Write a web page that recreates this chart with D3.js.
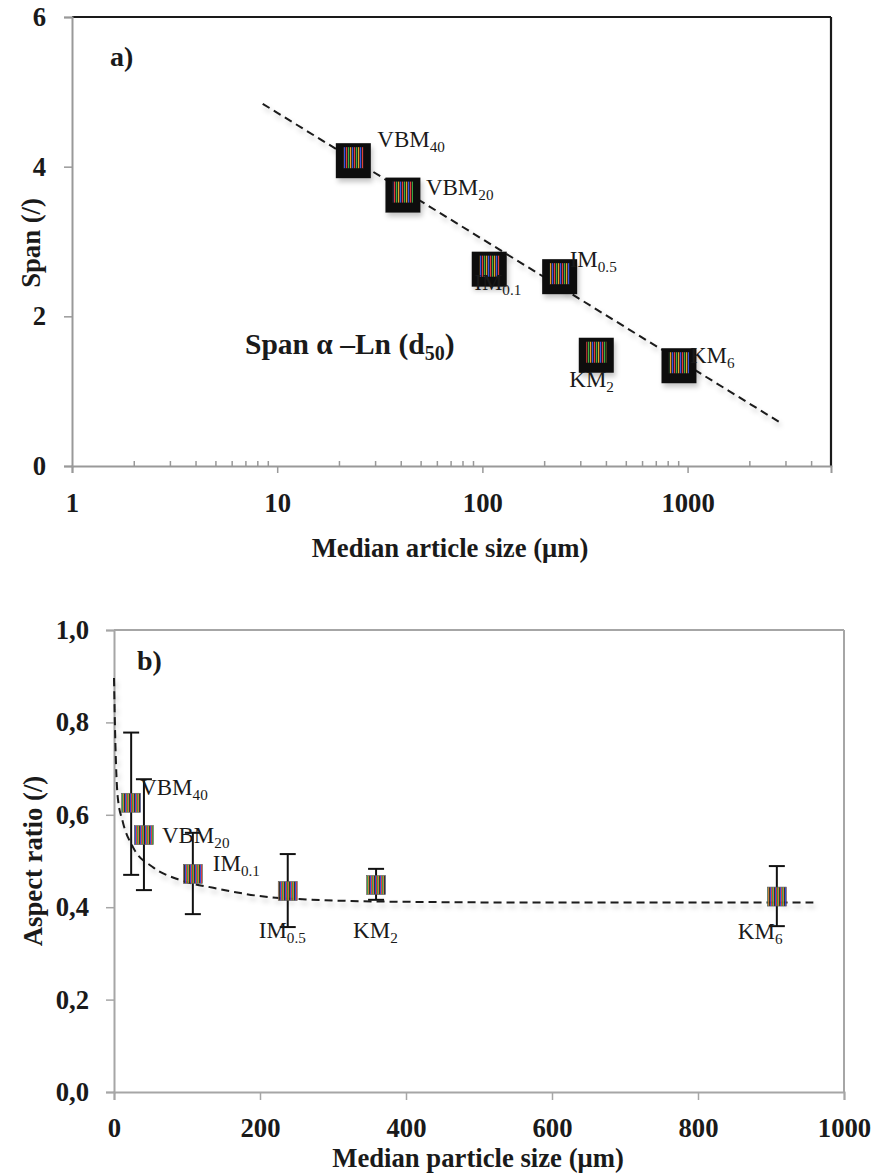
<!DOCTYPE html>
<html><head><meta charset="utf-8">
<script src="https://cdn.jsdelivr.net/npm/d3@7"></script>
<style>
body{margin:0;background:#fff}
svg{display:block}
text{font-family:"Liberation Serif","Times New Roman",serif;fill:#1a1a1a}
</style>
</head><body>
<svg id="chart" width="876" height="1175"></svg>
<script>
// ---------- data ----------
const samples = ["VBM40","VBM20","IM0.1","IM0.5","KM2","KM6"];
const labelMain = ["VBM","VBM","IM","IM","KM","KM"];
const labelSub = ["40","20","0.1","0.5","2","6"];
const medianSize = [23.5, 41, 108, 238, 359, 908];
const spanValues = [4.08, 3.62, 2.63, 2.53, 1.48, 1.34];
const aspectRatio = [0.626, 0.556, 0.472, 0.435, 0.448, 0.423];
const aspectUpper = [0.778, 0.677, 0.561, 0.515, 0.483, 0.489];
const aspectLower = [0.470, 0.437, 0.385, 0.357, 0.416, 0.359];
const spanTrendX = [8.5, 2850];
const spanTrendY = [4.84, 0.575];
const arTrendX = [0, 1.5, 5, 12, 26, 53, 90, 136, 226, 380, 600, 958];
const arTrendY = [0.896, 0.78, 0.64, 0.585, 0.53, 0.487, 0.459, 0.442, 0.42, 0.412, 0.41, 0.41];
const spanXTicks = [1, 10, 100, 1000];
const spanXMinor = [2,3,4,5,6,7,8,9,20,30,40,50,60,70,80,90,200,300,400,500,600,700,800,900,2000,3000,4000];
const spanYTicks = [0, 2, 4, 6];
const arXTicks = [0, 200, 400, 600, 800, 1000];
const arYTicks = [0, 0.2, 0.4, 0.6, 0.8, 1.0];

// label placement relative to markers (layout)
const labelOffA = [[24,-14],[23,0],[-15,21],[10,-10],[-27,32],[11,-3]];
const labelOffB = [[9,-8],[18,8],[20,-3],[-29,47],[-23,53],[-39,42]];

const svg = d3.select("#chart");
const defs = svg.append("defs");
const pat = defs.append("pattern").attr("id","stripes").attr("width",8).attr("height",4)
  .attr("patternUnits","userSpaceOnUse");
pat.append("rect").attr("width",8).attr("height",4).attr("fill","#151515");
[["#3a55e0",0],["#e0403a",2],["#3cb043",4],["#e89a2a",6]].forEach(([c,x])=>
  pat.append("rect").attr("x",x).attr("width",1.2).attr("height",4).attr("fill",c));
const pat2 = defs.append("pattern").attr("id","stripes2").attr("width",5).attr("height",4)
  .attr("patternUnits","userSpaceOnUse");
pat2.append("rect").attr("width",5).attr("height",4).attr("fill","#2a2a2a");
[["#3048d8",0],["#d8383a",1],["#2ea040",2],["#c87a30",3]].forEach(([c,x])=>
  pat2.append("rect").attr("x",x).attr("width",1).attr("height",4).attr("fill",c));
const f = defs.append("filter").attr("id","shadow").attr("filterUnits","userSpaceOnUse")
  .attr("x",0).attr("y",0).attr("width",876).attr("height",1175);
f.append("feDropShadow").attr("dx",2).attr("dy",4).attr("stdDeviation",2.5)
  .attr("flood-color","#000").attr("flood-opacity",0.22);

const BOLD = {"font-weight":"bold","font-size":"26.7px"};
function styleText(sel, st){ Object.entries(st).forEach(([k,v])=>sel.attr(k,v)); return sel; }
function subLabel(g, x, y, main, sub, size){
  const t = g.append("text").attr("x",x).attr("y",y).attr("font-size",size+"px");
  t.append("tspan").text(main);
  t.append("tspan").attr("dy",5).attr("font-size",(size*0.66)+"px").text(sub);
  return t;
}

// ================= Chart a =================
const xA = d3.scaleLog().domain([1,5000]).range([72,831]);
const yA = d3.scaleLinear().domain([0,6]).range([466,17]);
const gA = svg.append("g");

gA.append("line").attr("x1",72).attr("x2",831).attr("y1",yA(6)).attr("y2",yA(6)).attr("stroke","#1a1a1a").attr("stroke-width",2.2);
gA.append("line").attr("x1",831).attr("x2",831).attr("y1",yA(6)).attr("y2",yA(0)+1).attr("stroke","#1a1a1a").attr("stroke-width",2.2);

const ayA = gA.append("g").attr("transform","translate(72,0)")
  .call(d3.axisLeft(yA).tickValues(spanYTicks).tickSize(8).tickPadding(18).tickFormat(d3.format("d")));
ayA.select(".domain").attr("stroke","#999").attr("stroke-width",2);
ayA.selectAll(".tick line").attr("stroke","#999").attr("stroke-width",1.5);
ayA.selectAll("text").attr("font-family",null).call(s=>styleText(s,BOLD)).attr("fill","#1a1a1a");

const axA = gA.append("g").attr("transform","translate(0,466)")
  .call(d3.axisBottom(xA).tickValues(spanXTicks).tickSize(7).tickFormat(d3.format("d")));
axA.select(".domain").attr("stroke","#999").attr("stroke-width",2);
axA.selectAll(".tick line").attr("stroke","#999").attr("stroke-width",1.5);
axA.selectAll("text").attr("font-family",null).attr("y",46).attr("dy",0).call(s=>styleText(s,BOLD)).attr("fill","#1a1a1a");
const axAm = gA.append("g").attr("transform","translate(0,466)")
  .call(d3.axisBottom(xA).tickValues(spanXMinor).tickSize(-5).tickFormat(""));
axAm.select(".domain").remove();
axAm.selectAll(".tick line").attr("stroke","#999").attr("stroke-width",1.5);

styleText(gA.append("text").attr("x",450).attr("y",557).attr("text-anchor","middle"),BOLD).text("Median article size (μm)");
styleText(gA.append("text").attr("transform","translate(40,243) rotate(-90)").attr("text-anchor","middle"),BOLD).text("Span (/)");
gA.append("text").attr("x",110).attr("y",66).attr("font-weight","bold").attr("font-size","28px").text("a)");
const spanT = gA.append("text").attr("x",245).attr("y",354).attr("font-weight","bold").attr("font-size","29.5px");
spanT.append("tspan").text("Span α –Ln (d");
spanT.append("tspan").attr("dy",6).attr("font-size","20px").text("50");
spanT.append("tspan").attr("dy",-6).text(")");

gA.append("path")
  .attr("d", d3.line().x(d=>xA(d[0])).y(d=>yA(d[1]))(d3.zip(spanTrendX, spanTrendY)))
  .attr("fill","none").attr("stroke","#1a1a1a").attr("stroke-width",2).attr("stroke-dasharray","8,5")
  .attr("filter","url(#shadow)");

const ptsA = samples.map((s,i)=>({x:xA(medianSize[i]), y:yA(spanValues[i]), i}));
const mA = gA.selectAll(".mA").data(ptsA).join("g").attr("class","mA").attr("filter","url(#shadow)");
mA.append("rect").attr("x",d=>d.x-17.5).attr("y",d=>d.y-17.5).attr("width",35).attr("height",35).attr("fill","#111");
mA.append("rect").attr("x",d=>d.x-10).attr("y",d=>d.y-13.5).attr("width",20).attr("height",21).attr("fill","url(#stripes)");
ptsA.forEach(d=>{
  subLabel(gA, d.x+labelOffA[d.i][0], d.y+labelOffA[d.i][1], labelMain[d.i], labelSub[d.i], 23);
});

// ================= Chart b =================
const xB = d3.scaleLinear().domain([0,1000]).range([114,844]);
const yB = d3.scaleLinear().domain([0,1]).range([1092,630]);
const gB = svg.append("g");
gB.append("line").attr("x1",114).attr("x2",844).attr("y1",yB(1)).attr("y2",yB(1)).attr("stroke","#a6a6a6").attr("stroke-width",2);
gB.append("line").attr("x1",844).attr("x2",844).attr("y1",yB(1)).attr("y2",yB(0)).attr("stroke","#a6a6a6").attr("stroke-width",2);

const fmtComma = d=>d3.format(".1f")(d).replace(".",",");
const ayB = gB.append("g").attr("transform","translate(114,0)")
  .call(d3.axisLeft(yB).tickValues(arYTicks).tickSize(8).tickPadding(17).tickFormat(fmtComma));
ayB.select(".domain").attr("stroke","#a6a6a6").attr("stroke-width",2);
ayB.selectAll(".tick line").attr("stroke","#a6a6a6").attr("stroke-width",1.5);
ayB.selectAll("text").attr("font-family",null).call(s=>styleText(s,BOLD)).attr("fill","#1a1a1a");

const axB = gB.append("g").attr("transform","translate(0,1092)")
  .call(d3.axisBottom(xB).tickValues(arXTicks).tickSize(8).tickFormat(d3.format("d")));
axB.select(".domain").attr("stroke","#a6a6a6").attr("stroke-width",2);
axB.selectAll(".tick line").attr("stroke","#a6a6a6").attr("stroke-width",1.5);
axB.selectAll("text").attr("font-family",null).attr("y",45).attr("dy",0).call(s=>styleText(s,BOLD)).attr("fill","#1a1a1a");

styleText(gB.append("text").attr("x",478).attr("y",1167).attr("text-anchor","middle"),BOLD).text("Median particle size (μm)");
styleText(gB.append("text").attr("transform","translate(42,861) rotate(-90)").attr("text-anchor","middle"),BOLD).text("Aspect ratio (/)");
gB.append("text").attr("x",137).attr("y",670).attr("font-weight","bold").attr("font-size","28px").text("b)");

gB.append("path")
  .attr("d", d3.line().curve(d3.curveMonotoneX).x(d=>xB(d[0])).y(d=>yB(d[1]))(d3.zip(arTrendX, arTrendY)))
  .attr("fill","none").attr("stroke","#1a1a1a").attr("stroke-width",2).attr("stroke-dasharray","8,5")
  .attr("filter","url(#shadow)");

const ptsB = samples.map((s,i)=>({x:xB(medianSize[i]), y:yB(aspectRatio[i]), hi:yB(aspectUpper[i]), lo:yB(aspectLower[i]), i}));
const eb = gB.selectAll(".eb").data(ptsB).join("g").attr("class","eb").attr("stroke","#111").attr("stroke-width",2);
eb.append("line").attr("x1",d=>d.x).attr("x2",d=>d.x).attr("y1",d=>d.hi).attr("y2",d=>d.lo);
eb.append("line").attr("x1",d=>d.x-8).attr("x2",d=>d.x+8).attr("y1",d=>d.hi).attr("y2",d=>d.hi);
eb.append("line").attr("x1",d=>d.x-8).attr("x2",d=>d.x+8).attr("y1",d=>d.lo).attr("y2",d=>d.lo);
gB.selectAll(".mB").data(ptsB).join("rect").attr("class","mB")
  .attr("x",d=>d.x-9.5).attr("y",d=>d.y-9.5).attr("width",19).attr("height",19)
  .attr("fill","url(#stripes2)").attr("stroke","#555").attr("stroke-width",0.6).attr("opacity",0.95);
ptsB.forEach(d=>{
  subLabel(gB, d.x+labelOffB[d.i][0], d.y+labelOffB[d.i][1], labelMain[d.i], labelSub[d.i], 23);
});
</script>
</body></html>
